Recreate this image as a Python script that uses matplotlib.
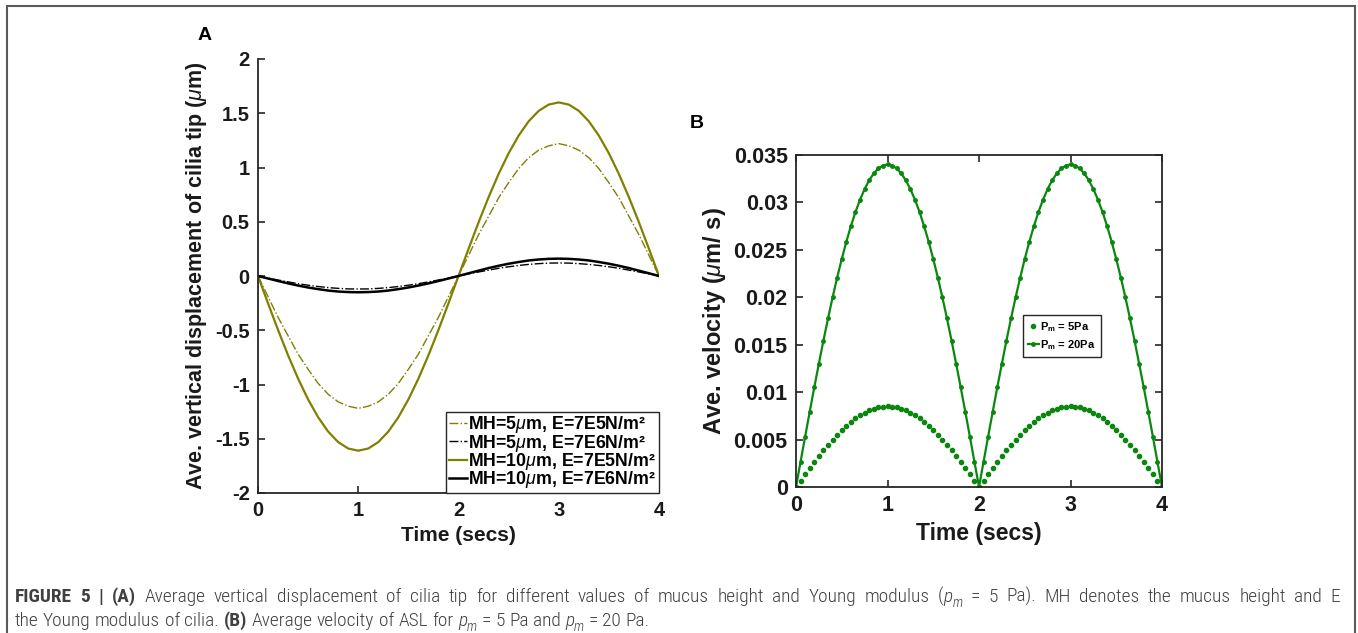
import os
import matplotlib
matplotlib.use("Agg")
import matplotlib.pyplot as plt
from matplotlib import font_manager
from matplotlib.font_manager import FontProperties
from matplotlib.patches import Rectangle

# ---------------- data ----------------
# Panel A : time axis and displacement series
t_a = [0.0, 0.1, 0.2, 0.3, 0.4, 0.5, 0.6, 0.7, 0.8, 0.9, 1.0,
       1.1, 1.2, 1.3, 1.4, 1.5, 1.6, 1.7, 1.8, 1.9, 2.0,
       2.1, 2.2, 2.3, 2.4, 2.5, 2.6, 2.7, 2.8, 2.9, 3.0,
       3.1, 3.2, 3.3, 3.4, 3.5, 3.6, 3.7, 3.8, 3.9, 4.0]

mh5_e7e5 = [0, -0.19, -0.38, -0.55, -0.72, -0.86, -0.99, -1.09, -1.16, -1.20, -1.22,
            -1.20, -1.16, -1.09, -0.99, -0.86, -0.72, -0.55, -0.38, -0.19, 0,
            0.19, 0.38, 0.55, 0.72, 0.86, 0.99, 1.09, 1.16, 1.20, 1.22,
            1.20, 1.16, 1.09, 0.99, 0.86, 0.72, 0.55, 0.38, 0.19, 0]

mh5_e7e6 = [0, -0.019, -0.037, -0.054, -0.071, -0.085, -0.097, -0.107, -0.114, -0.119, -0.12,
            -0.119, -0.114, -0.107, -0.097, -0.085, -0.071, -0.054, -0.037, -0.019, 0,
            0.019, 0.037, 0.054, 0.071, 0.085, 0.097, 0.107, 0.114, 0.119, 0.12,
            0.119, 0.114, 0.107, 0.097, 0.085, 0.071, 0.054, 0.037, 0.019, 0]

mh10_e7e5 = [0, -0.252, -0.497, -0.731, -0.946, -1.138, -1.302, -1.434, -1.531, -1.590, -1.61,
             -1.590, -1.531, -1.434, -1.302, -1.138, -0.946, -0.731, -0.497, -0.252, 0,
             0.250, 0.494, 0.726, 0.940, 1.131, 1.294, 1.426, 1.522, 1.580, 1.60,
             1.580, 1.522, 1.426, 1.294, 1.131, 0.940, 0.726, 0.494, 0.250, 0]

mh10_e7e6 = [0, -0.023, -0.046, -0.068, -0.088, -0.106, -0.121, -0.134, -0.143, -0.148, -0.150,
             -0.148, -0.143, -0.134, -0.121, -0.106, -0.088, -0.068, -0.046, -0.023, 0,
             0.025, 0.049, 0.073, 0.094, 0.113, 0.129, 0.143, 0.152, 0.158, 0.160,
             0.158, 0.152, 0.143, 0.129, 0.113, 0.094, 0.073, 0.049, 0.025, 0]

labels_a = [r"MH=5$\mu$m, E=7E5N/m²",
            r"MH=5$\mu$m, E=7E6N/m²",
            r"MH=10$\mu$m, E=7E5N/m²",
            r"MH=10$\mu$m, E=7E6N/m²"]

# Panel B : velocity series
t_b = [0.00, 0.05, 0.10, 0.15, 0.20, 0.25, 0.30, 0.35, 0.40, 0.45, 0.50,
       0.55, 0.60, 0.65, 0.70, 0.75, 0.80, 0.85, 0.90, 0.95, 1.00,
       1.05, 1.10, 1.15, 1.20, 1.25, 1.30, 1.35, 1.40, 1.45, 1.50,
       1.55, 1.60, 1.65, 1.70, 1.75, 1.80, 1.85, 1.90, 1.95, 2.00,
       2.05, 2.10, 2.15, 2.20, 2.25, 2.30, 2.35, 2.40, 2.45, 2.50,
       2.55, 2.60, 2.65, 2.70, 2.75, 2.80, 2.85, 2.90, 2.95, 3.00,
       3.05, 3.10, 3.15, 3.20, 3.25, 3.30, 3.35, 3.40, 3.45, 3.50,
       3.55, 3.60, 3.65, 3.70, 3.75, 3.80, 3.85, 3.90, 3.95, 4.00]

vel_5pa = [0, .00067, .00133, .00198, .00263, .00325, .00386, .00444, .00500, .00552, .00601,
           .00646, .00688, .00725, .00757, .00785, .00808, .00827, .00840, .00847, .0085,
           .00847, .00840, .00827, .00808, .00785, .00757, .00725, .00688, .00646, .00601,
           .00552, .00500, .00444, .00386, .00325, .00263, .00198, .00133, .00067, 0,
           .00067, .00133, .00198, .00263, .00325, .00386, .00444, .00500, .00552, .00601,
           .00646, .00688, .00725, .00757, .00785, .00808, .00827, .00840, .00847, .0085,
           .00847, .00840, .00827, .00808, .00785, .00757, .00725, .00688, .00646, .00601,
           .00552, .00500, .00444, .00386, .00325, .00263, .00198, .00133, .00067, 0]

vel_20pa = [0, .00267, .00532, .00794, .01051, .01301, .01544, .01777, .01999, .02208, .02404,
            .02585, .02751, .02899, .03029, .03141, .03234, .03306, .03358, .03389, .0340,
            .03389, .03358, .03306, .03234, .03141, .03029, .02899, .02751, .02585, .02404,
            .02208, .01999, .01777, .01544, .01301, .01051, .00794, .00532, .00267, 0,
            .00267, .00532, .00794, .01051, .01301, .01544, .01777, .01999, .02208, .02404,
            .02585, .02751, .02899, .03029, .03141, .03234, .03306, .03358, .03389, .0340,
            .03389, .03358, .03306, .03234, .03141, .03029, .02899, .02751, .02585, .02404,
            .02208, .01999, .01777, .01544, .01301, .01051, .00794, .00532, .00267, 0]

labels_b = [r"P$_{\rm m}$ = 5Pa", r"P$_{\rm m}$ = 20Pa"]

xticks = [0, 1, 2, 3, 4]
xticks_lbl = ["0", "1", "2", "3", "4"]
yticks_a = [-2, -1.5, -1, -0.5, 0, 0.5, 1, 1.5, 2]
yticks_a_lbl = ["-2", "-1.5", "-1", "-0.5", "0", "0.5", "1", "1.5", "2"]
yticks_b = [0, 0.005, 0.01, 0.015, 0.02, 0.025, 0.03, 0.035]
yticks_b_lbl = ["0", "0.005", "0.01", "0.015", "0.02", "0.025", "0.03", "0.035"]

# ---------------- style ----------------
avail = {f.name for f in font_manager.fontManager.ttflist}
BASE = "Liberation Sans" if "Liberation Sans" in avail else "DejaVu Sans"
plt.rcParams["font.family"] = [BASE, "DejaVu Sans"]
plt.rcParams["mathtext.fontset"] = "custom"
plt.rcParams["mathtext.rm"] = BASE + ":bold"
plt.rcParams["mathtext.bf"] = BASE + ":bold"
plt.rcParams["mathtext.it"] = BASE + ":italic"
plt.rcParams["mathtext.sf"] = BASE + ":bold"

OLIVE = "#808000"
GREEN = "#0a870f"
AXC = "#262626"
TXC = "#1a1a1a"

W, H = 1358, 633
fig = plt.figure(figsize=(W / 100, H / 100), dpi=100)


def ax_rect(l, t, r, b):
    return [l / W, 1 - b / H, (r - l) / W, (b - t) / H]


# ---------------- panel A ----------------
axA = fig.add_axes(ax_rect(258, 59, 659, 493))
axA.plot(t_a, mh5_e7e5, color=OLIVE, ls="-.", lw=1.0, label=labels_a[0])
axA.plot(t_a, mh5_e7e6, color="black", ls="-.", lw=1.0, label=labels_a[1])
axA.plot(t_a, mh10_e7e5, color=OLIVE, ls="-", lw=1.6, label=labels_a[2])
axA.plot(t_a, mh10_e7e6, color="black", ls="-", lw=1.8, label=labels_a[3])
for ln in axA.get_lines():
    ln.set_solid_joinstyle("round")
axA.set_xlim(0, 4)
axA.set_ylim(-2, 2)
axA.set_xticks(xticks)
axA.set_xticklabels(xticks_lbl, fontweight="bold")
axA.set_yticks(yticks_a)
axA.set_yticklabels(yticks_a_lbl, fontweight="bold")
for s in ["top", "right"]:
    axA.spines[s].set_visible(False)
for s in ["left", "bottom"]:
    axA.spines[s].set_color(AXC)
    axA.spines[s].set_linewidth(1.3)
axA.tick_params(direction="in", length=5, width=1.2, color=AXC, labelsize=14.5,
                labelcolor=TXC, pad=6)
axA.set_xlabel("Time (secs)", fontsize=15, fontweight="bold", color=TXC, labelpad=4)
axA.set_ylabel(r"Ave. vertical displacement of cilia tip ($\mu$m)", fontsize=15.5,
               fontweight="bold", color=TXC, labelpad=4)
legA = axA.legend(loc="lower right", bbox_to_anchor=(1.0, 0.0), borderaxespad=0,
                  handlelength=1.0, handletextpad=0.1, labelspacing=-0.15,
                  borderpad=0.15, fancybox=False, framealpha=1,
                  prop={"size": 12.8, "weight": "bold"})
legA.get_frame().set_edgecolor(AXC)
legA.get_frame().set_linewidth(1.0)
fig.text(205 / W, 1 - 35 / H, "A", fontsize=14, fontweight="bold", ha="center", va="center")

# ---------------- panel B ----------------
axB = fig.add_axes(ax_rect(796, 155, 1162, 487))
axB.plot(t_b, vel_5pa, color=GREEN, ls="none", marker="o", ms=3.0, label=labels_b[0])
axB.plot(t_b, vel_20pa, color=GREEN, ls="-", lw=1.6, marker="o", ms=2.5, label=labels_b[1])
axB.set_xlim(0, 4)
axB.set_ylim(0, 0.035)
axB.set_xticks(xticks)
axB.set_xticklabels(xticks_lbl, fontweight="bold")
axB.set_yticks(yticks_b)
axB.set_yticklabels(yticks_b_lbl, fontweight="bold")
for s in axB.spines.values():
    s.set_color(AXC)
    s.set_linewidth(1.3)
axB.tick_params(direction="in", length=5, width=1.2, color=AXC, labelsize=15.5,
                labelcolor=TXC, top=True, right=True, pad=6)
axB.set_xlabel("Time (secs)", fontsize=16.5, fontweight="bold", color=TXC, labelpad=4)
axB.set_ylabel(r"Ave. velocity ($\mu$m/ s)", fontsize=17, fontweight="bold",
               color=TXC, labelpad=4)
legB = axB.legend(loc="upper left", bbox_to_anchor=(0.62, 0.518), borderaxespad=0,
                  handlelength=1.0, handletextpad=0.1, labelspacing=0.4,
                  borderpad=0.45, fancybox=False, framealpha=1,
                  prop={"size": 8.0, "weight": "bold"})
legB.get_frame().set_edgecolor(AXC)
legB.get_frame().set_linewidth(1.0)
fig.text(697 / W, 1 - 123 / H, "B", fontsize=14, fontweight="bold", ha="center", va="center")

# ---------------- border and caption ----------------
fig.add_artist(Rectangle((7 / W, -0.05), (1355 - 7) / W, 1.05 - 6 / H,
                         transform=fig.transFigure, fill=False,
                         edgecolor="#5a5a5a", linewidth=1.5))


def _is_condensed(e):
    st = e.stretch
    if isinstance(st, str):
        st = font_manager.stretch_dict.get(st, 500)
    base = os.path.basename(e.fname).lower()
    return st <= 400 or any(k in base for k in ("narrow", "condensed", "cond"))


def _weight(e):
    w = e.weight
    if isinstance(w, str):
        w = font_manager.weight_dict.get(w, 400)
    return w


def pick_font(bold, italic):
    names = ["Liberation Sans Narrow", "Roboto Condensed", "Noto Sans", "Open Sans",
             "Roboto", "Liberation Sans"]
    target = 700 if bold else 300
    for name in names:
        cands = [e for e in font_manager.fontManager.ttflist
                 if e.name == name and _is_condensed(e)]
        if not cands:
            continue
        ok = [e for e in cands
              if (_weight(e) >= 600) == bold and (e.style in ("italic", "oblique")) == italic]
        if ok:
            ok.sort(key=lambda e: abs(_weight(e) - target))
            return FontProperties(fname=ok[0].fname)
    return FontProperties(family=BASE, weight="bold" if bold else "normal",
                          style="italic" if italic else "normal")


FP = {("n", False): pick_font(False, False), ("b", False): pick_font(True, False),
      ("n", True): pick_font(False, True)}

CAPC = "#404040"
renderer = fig.canvas.get_renderer()

line1 = [("FIGURE 5 | (A)", "b", False, 0),
         (" Average vertical displacement of cilia tip for different values of mucus height "
          "and Young modulus (", "n", False, 0),
         ("p", "n", True, 0), ("m", "n", True, 1),
         (" = 5 Pa). MH denotes the mucus height and E", "n", False, 0)]
line2 = [("the Young modulus of cilia. ", "n", False, 0), ("(B)", "b", False, 0),
         (" Average velocity of ASL for ", "n", False, 0),
         ("p", "n", True, 0), ("m", "n", True, 1),
         (" = 5 Pa and ", "n", False, 0),
         ("p", "n", True, 0), ("m", "n", True, 1),
         (" = 20 Pa.", "n", False, 0)]


def _fp(wt, it, sub, size):
    fp = FP[(wt, it)].copy()
    fp.set_size(size * (0.7 if sub else 1.0))
    return fp


def _width(txt, fp):
    t = fig.text(0, 0, txt, fontproperties=fp)
    w = t.get_window_extent(renderer=renderer).width
    t.remove()
    return w


def caption_line(x0, y_px, parts, size, end_px=None, draw=True):
    items = []
    for txt, wt, it, sub in parts:
        pieces = txt.split(" ")
        for i, p in enumerate(pieces):
            fp = _fp(wt, it, sub, size)
            if i > 0:
                items.append(("sp", None, fp, sub,
                              _width("a a", fp) - _width("aa", fp)))
            if p:
                items.append(("w", p, fp, sub, _width(p, fp)))
    natural = sum(it[4] for it in items)
    nsp = sum(1 for it in items if it[0] == "sp")
    extra = 0.0
    if end_px is not None and nsp:
        extra = max(0.0, (end_px - x0 - natural) / nsp)
    if not draw:
        return natural
    x = x0
    for kind, txt, fp, sub, w in items:
        if kind == "sp":
            x += w + extra
            continue
        yy = y_px + (0.28 * size * 100 / 72 if sub else 0)
        fig.text(x / W, 1 - yy / H, txt, fontproperties=fp, color=CAPC,
                 ha="left", va="baseline")
        x += w
    return x - x0


w10 = caption_line(15, 626, line2, 10, draw=False)
CAPSIZE = 10 * (650 - 15) / w10
caption_line(15, 602, line1, CAPSIZE, end_px=1340)
caption_line(15, 626, line2, CAPSIZE)

fig.savefig("out.png", dpi=100)
